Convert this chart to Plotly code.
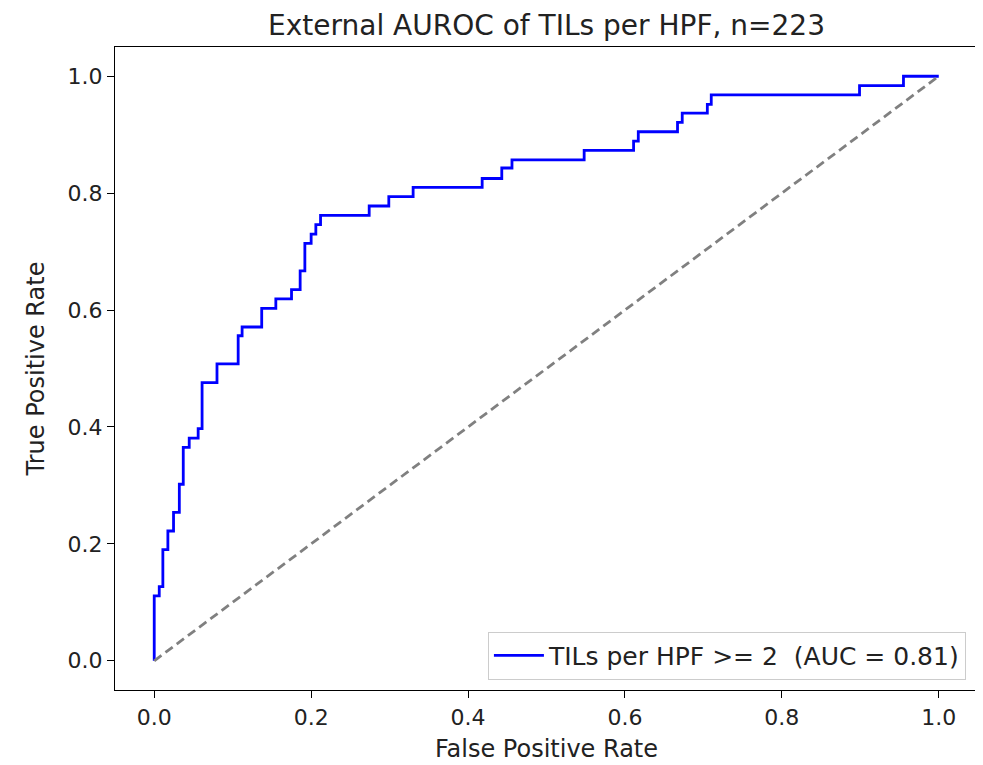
import plotly.graph_objects as go

# ROC step corners (fpr, tpr)
fpr = [0.0, 0.0, 0.0064, 0.011, 0.0174, 0.0246, 0.032, 0.037, 0.0446, 0.056, 0.061,
       0.080, 0.107, 0.112, 0.137, 0.155, 0.175, 0.186, 0.192, 0.200, 0.206, 0.212,
       0.274, 0.299, 0.330, 0.418, 0.443, 0.456, 0.548, 0.611, 0.617, 0.667, 0.673,
       0.705, 0.710, 0.899, 0.955, 1.0]
tpr = [0.0, 0.111, 0.127, 0.190, 0.222, 0.254, 0.302, 0.365, 0.381, 0.397, 0.476,
       0.508, 0.556, 0.571, 0.603, 0.619, 0.635, 0.667, 0.714, 0.730, 0.746, 0.762,
       0.778, 0.794, 0.810, 0.825, 0.843, 0.857, 0.873, 0.889, 0.905, 0.921, 0.937,
       0.952, 0.968, 0.984, 1.0, 1.0]
diag = [0.0, 1.0]
ticks = [0.0, 0.2, 0.4, 0.6, 0.8, 1.0]
tick_labels = ["0.0", "0.2", "0.4", "0.6", "0.8", "1.0"]
label = "TILs per HPF >= 2\u00a0\u00a0(AUC = 0.81)"

fig = go.Figure()
fig.add_trace(go.Scatter(x=fpr, y=tpr, mode="lines", line=dict(color="blue", width=2.8, shape="hv"),
                         name=label))
fig.add_trace(go.Scatter(x=diag, y=diag, mode="lines", line=dict(color="gray", width=2.8, dash="9px,5px"),
                         showlegend=False))

axis_common = dict(range=[-0.05, 1.05], tickvals=ticks, ticktext=tick_labels, ticks="outside",
                   ticklen=7, tickwidth=1.3, tickcolor="black", showline=True, linecolor="black",
                   linewidth=1.3, mirror=True, showgrid=False, zeroline=False, automargin=False,
                   tickfont=dict(size=22, color="#222"))
fig.update_layout(
    width=983, height=765,
    margin=dict(l=107, r=13, t=39, b=83),
    paper_bgcolor="white", plot_bgcolor="white",
    font=dict(family="DejaVu Sans", color="#222"),
    title=dict(text="External AUROC of TILs per HPF, n=223", x=0.5, xref="paper", xanchor="center",
               y=0.978, yanchor="middle", font=dict(size=28), automargin=False),
    xaxis=dict(title=dict(text="False Positive Rate", font=dict(size=24), standoff=11), **axis_common),
    yaxis=dict(title=dict(text="True Positive Rate", font=dict(size=24), standoff=16), **axis_common),
    legend=dict(x=0.986, y=0.016, xanchor="right", yanchor="bottom", bordercolor="#cccccc",
                borderwidth=1, bgcolor="rgba(255,255,255,0.8)", font=dict(size=25), itemwidth=50),
)
fig.write_html("out.html")
